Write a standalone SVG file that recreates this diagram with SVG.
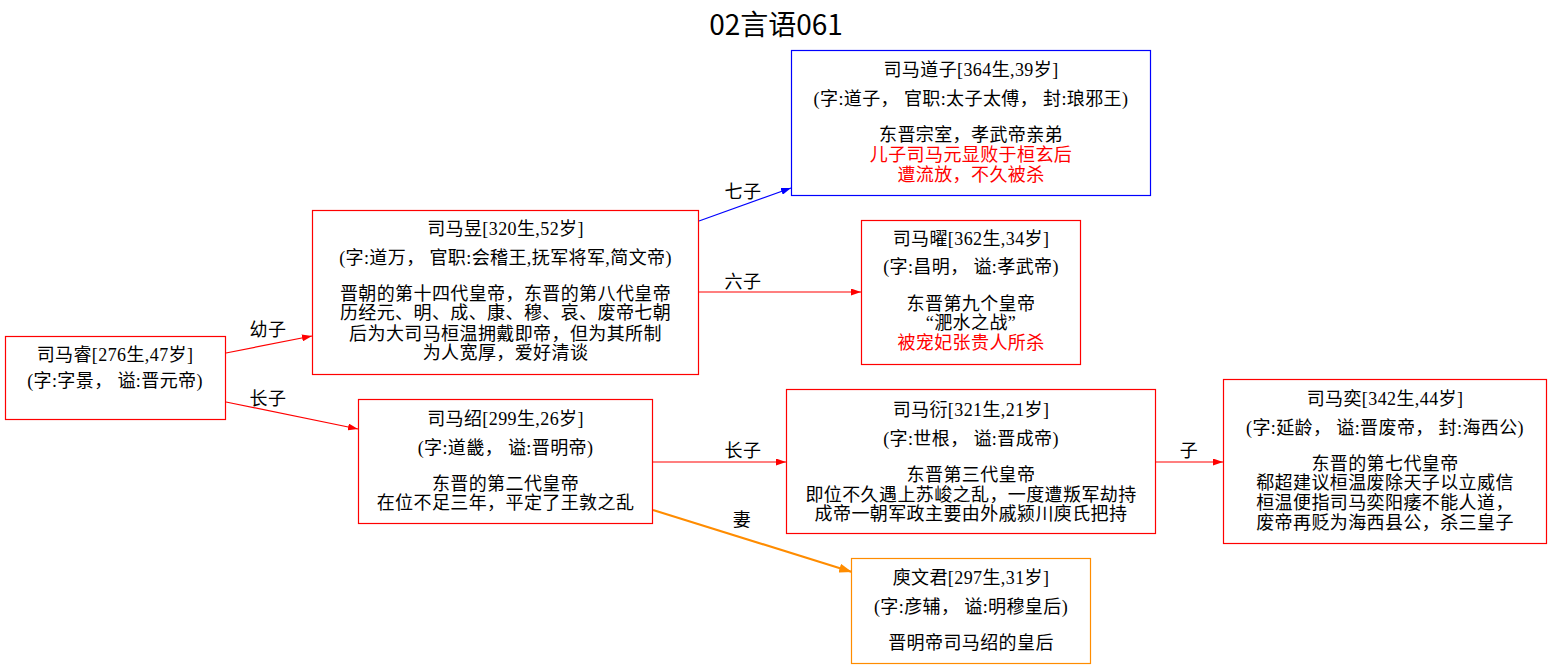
<svg xmlns="http://www.w3.org/2000/svg" width="1552" height="669" viewBox="0 0 1552 669">
  <style>
    text { font-family: "Liberation Serif", "Noto Sans CJK SC", serif; font-size: 18px; letter-spacing: 0.4px; fill: #000; text-anchor: middle; }
    .title { font-family: "Noto Sans CJK SC", "Liberation Sans", sans-serif; font-size: 28px; letter-spacing: 0; }
    .hl { fill: #ff0000; }
    .box { fill: #fff; stroke-width: 1.2; }
    .red { stroke: #ff0000; }
    .blue { stroke: #0000ff; }
    .orange { stroke: #ff8c00; }
    .edge { fill: none; stroke-width: 1.2; }
  </style>
  <defs>
    <marker id="ahRed" viewBox="0 0 10 7" refX="10" refY="3.5" markerWidth="10" markerHeight="7" markerUnits="userSpaceOnUse" orient="auto">
      <path d="M0,0 L10,3.5 L0,7 z" fill="#ff0000"/>
    </marker>
    <marker id="ahBlue" viewBox="0 0 10 7" refX="10" refY="3.5" markerWidth="10" markerHeight="7" markerUnits="userSpaceOnUse" orient="auto">
      <path d="M0,0 L10,3.5 L0,7 z" fill="#0000ff"/>
    </marker>
    <marker id="ahOrange" viewBox="0 0 10 7" refX="10" refY="3.5" markerWidth="13" markerHeight="9" markerUnits="userSpaceOnUse" orient="auto">
      <path d="M0,0 L10,3.5 L0,7 z" fill="#ff8c00"/>
    </marker>
  </defs>
  <rect width="1552" height="669" fill="#fff"/>

  <text class="title" x="776" y="35">02言语061</text>

  <g id="edges">
    <line class="edge red" x1="226" y1="353" x2="312" y2="336" marker-end="url(#ahRed)"/>
    <text x="268" y="336">幼子</text>
    <line class="edge red" x1="226" y1="402" x2="358" y2="429" marker-end="url(#ahRed)"/>
    <text x="268" y="405">长子</text>
    <line class="edge blue" x1="699" y1="221" x2="791" y2="188" marker-end="url(#ahBlue)"/>
    <text x="743" y="198">七子</text>
    <line class="edge red" x1="699" y1="292" x2="861" y2="292" marker-end="url(#ahRed)"/>
    <text x="743" y="288">六子</text>
    <line class="edge red" x1="653" y1="462" x2="786" y2="462" marker-end="url(#ahRed)"/>
    <text x="743" y="457">长子</text>
    <line class="edge orange" style="stroke-width:2.2" x1="653" y1="510" x2="852" y2="572" marker-end="url(#ahOrange)"/>
    <text x="742" y="526">妻</text>
    <line class="edge red" x1="1156" y1="462" x2="1223" y2="462" marker-end="url(#ahRed)"/>
    <text x="1189" y="457">子</text>
  </g>

  <g id="n_rui">
    <rect class="box red" x="5.5" y="336.5" width="220" height="83"/>
    <text x="115" y="361">司马睿[276生,47岁]</text>
    <text x="115" y="387">(字:字景， 谥:晋元帝)</text>
  </g>

  <g id="n_yu">
    <rect class="box red" x="312.5" y="210.5" width="386" height="164"/>
    <text x="505.5" y="235">司马昱[320生,52岁]</text>
    <text x="505.5" y="264">(字:道万， 官职:会稽王,抚军将军,简文帝)</text>
    <text x="505.5" y="300">晋朝的第十四代皇帝，东晋的第八代皇帝</text>
    <text x="505.5" y="319">历经元、明、成、康、穆、哀、废帝七朝</text>
    <text x="505.5" y="340">后为大司马桓温拥戴即帝，但为其所制</text>
    <text x="505.5" y="359">为人宽厚，爱好清谈</text>
  </g>

  <g id="n_daozi">
    <rect class="box blue" x="791.5" y="50.5" width="359" height="145"/>
    <text x="971" y="76">司马道子[364生,39岁]</text>
    <text x="971" y="105">(字:道子， 官职:太子太傅， 封:琅邪王)</text>
    <text x="971" y="141">东晋宗室，孝武帝亲弟</text>
    <text class="hl" x="971" y="161">儿子司马元显败于桓玄后</text>
    <text class="hl" x="971" y="181">遭流放，不久被杀</text>
  </g>

  <g id="n_yao">
    <rect class="box red" x="861.5" y="220.5" width="219" height="144"/>
    <text x="971" y="245">司马曜[362生,34岁]</text>
    <text x="971" y="273">(字:昌明， 谥:孝武帝)</text>
    <text x="971" y="310">东晋第九个皇帝</text>
    <text x="971" y="329">“淝水之战”</text>
    <text class="hl" x="971" y="349">被宠妃张贵人所杀</text>
  </g>

  <g id="n_shao">
    <rect class="box red" x="358.5" y="399.5" width="294" height="124"/>
    <text x="505.5" y="425">司马绍[299生,26岁]</text>
    <text x="505.5" y="454">(字:道畿， 谥:晋明帝)</text>
    <text x="505.5" y="490">东晋的第二代皇帝</text>
    <text x="505.5" y="509">在位不足三年，平定了王敦之乱</text>
  </g>

  <g id="n_yan">
    <rect class="box red" x="786.5" y="389.5" width="369" height="144"/>
    <text x="971" y="416">司马衍[321生,21岁]</text>
    <text x="971" y="445">(字:世根， 谥:晋成帝)</text>
    <text x="971" y="481">东晋第三代皇帝</text>
    <text x="971" y="501">即位不久遇上苏峻之乱，一度遭叛军劫持</text>
    <text x="971" y="520">成帝一朝军政主要由外戚颍川庾氏把持</text>
  </g>

  <g id="n_yi">
    <rect class="box red" x="1223.5" y="379.5" width="323" height="164"/>
    <text x="1385" y="405">司马奕[342生,44岁]</text>
    <text x="1385" y="434">(字:延龄， 谥:晋废帝， 封:海西公)</text>
    <text x="1385" y="470">东晋的第七代皇帝</text>
    <text x="1385" y="489">郗超建议桓温废除天子以立威信</text>
    <text x="1385" y="509">桓温便指司马奕阳痿不能人道，</text>
    <text x="1385" y="529">废帝再贬为海西县公，杀三皇子</text>
  </g>

  <g id="n_wenjun">
    <rect class="box orange" x="851.5" y="558.5" width="239" height="105"/>
    <text x="971" y="584">庾文君[297生,31岁]</text>
    <text x="971" y="613">(字:彦辅， 谥:明穆皇后)</text>
    <text x="971" y="649">晋明帝司马绍的皇后</text>
  </g>
</svg>
